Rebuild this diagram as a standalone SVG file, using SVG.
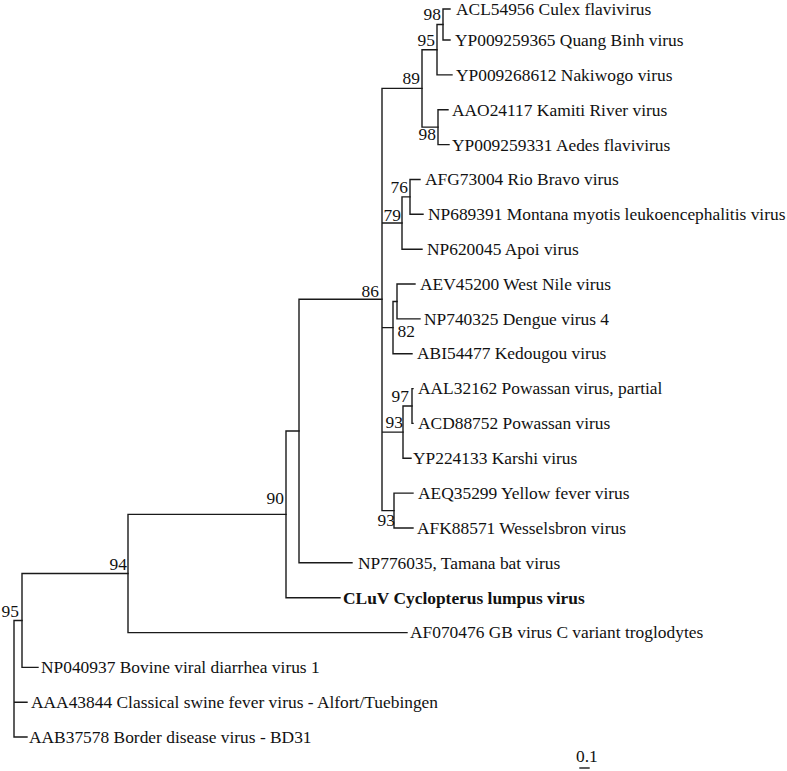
<svg xmlns="http://www.w3.org/2000/svg" width="787" height="771" viewBox="0 0 787 771">
<style>
.e{fill:none;stroke:#1a1a1a;stroke-width:1.4;stroke-linecap:square}
text{font-family:"Liberation Serif","Times New Roman",serif;font-size:17.4px;fill:#111}
.b{text-anchor:end}
.bold{font-weight:bold}
</style>
<rect width="787" height="771" fill="#fff"/>
<g id="connectors">
<path class="e" d="M14 620.5V737M14 620.5H22M14 702.3H27M14 737H27"/>
<path class="e" d="M22 573.5V667.4M22 573.5H128M22 667.4H38"/>
<path class="e" d="M128 514.4V632.6M128 514.4H286M128 632.6H407"/>
<path class="e" d="M286 431V597.7M286 431H299M286 597.7H340"/>
<path class="e" d="M299 299.3V562.8M299 299.3H382M299 562.8H352"/>
<path class="e" d="M382 88.4V510.6M382 88.4H422M382 223H402M382 327.6H393M382 432.1H403M382 510.6H394"/>
<path class="e" d="M422 49.7V127.1M422 49.7H437M422 127.1H438"/>
<path class="e" d="M437 24.5V74.9M437 24.5H443M437 74.9H452"/>
<path class="e" d="M443 9V40M443 9H450M443 40H450"/>
<path class="e" d="M438 109.7V144.6M438 109.7H448M438 144.6H449"/>
<path class="e" d="M402 196.9V249.2M402 196.9H410M402 249.2H422"/>
<path class="e" d="M410 179.5V214.3M410 179.5H420M410 214.3H423"/>
<path class="e" d="M393 301.5V353.7M393 301.5H397M393 353.7H412"/>
<path class="e" d="M397 284V318.9M397 284H415M397 318.9H420"/>
<path class="e" d="M403 406V458.3M403 406H412M403 458.3H411"/>
<path class="e" d="M412 388.6V423.4M412 388.6H413M412 423.4H413"/>
<path class="e" d="M394 493.1V528M394 493.1H413M394 528H413"/>
<path class="e" d="M580 768H589"/>
</g>
<g id="leaf-ACL54956"><text x="456" y="14.5">ACL54956 Culex flavivirus</text></g>
<g id="leaf-YP009259365"><text x="455" y="45.5">YP009259365 Quang Binh virus</text></g>
<g id="leaf-YP009268612"><text x="456" y="80.5">YP009268612 Nakiwogo virus</text></g>
<g id="leaf-AAO24117"><text x="452" y="115.5">AAO24117 Kamiti River virus</text></g>
<g id="leaf-YP009259331"><text x="452" y="150.5">YP009259331 Aedes flavivirus</text></g>
<g id="leaf-AFG73004"><text x="425" y="185">AFG73004 Rio Bravo virus</text></g>
<g id="leaf-NP689391"><text x="428" y="220">NP689391 Montana myotis leukoencephalitis virus</text></g>
<g id="leaf-NP620045"><text x="427" y="255">NP620045 Apoi virus</text></g>
<g id="leaf-AEV45200"><text x="420" y="289.5">AEV45200 West Nile virus</text></g>
<g id="leaf-NP740325"><text x="424" y="324.5">NP740325 Dengue virus 4</text></g>
<g id="leaf-ABI54477"><text x="417" y="359">ABI54477 Kedougou virus</text></g>
<g id="leaf-AAL32162"><text x="418" y="394">AAL32162 Powassan virus, partial</text></g>
<g id="leaf-ACD88752"><text x="418" y="429">ACD88752 Powassan virus</text></g>
<g id="leaf-YP224133"><text x="413" y="464">YP224133 Karshi virus</text></g>
<g id="leaf-AEQ35299"><text x="418" y="498.5">AEQ35299 Yellow fever virus</text></g>
<g id="leaf-AFK88571"><text x="417" y="533.5">AFK88571 Wesselsbron virus</text></g>
<g id="leaf-NP776035"><text x="358" y="568.5">NP776035, Tamana bat virus</text></g>
<g id="leaf-CLuV"><text class="bold" x="343" y="603.5">CLuV Cyclopterus lumpus virus</text></g>
<g id="leaf-AF070476"><text x="410" y="638">AF070476 GB virus C variant troglodytes</text></g>
<g id="leaf-NP040937"><text x="41" y="673">NP040937 Bovine viral diarrhea virus 1</text></g>
<g id="leaf-AAA43844"><text x="31" y="708">AAA43844 Classical swine fever virus - Alfort/Tuebingen</text></g>
<g id="leaf-AAB37578"><text x="29" y="742.5">AAB37578 Border disease virus - BD31</text></g>
<g id="node-98a"><text class="b" x="441" y="20">98</text></g>
<g id="node-95a"><text class="b" x="435" y="46">95</text></g>
<g id="node-89"><text class="b" x="420" y="84">89</text></g>
<g id="node-98b"><text class="b" x="436" y="140">98</text></g>
<g id="node-76"><text class="b" x="408" y="193">76</text></g>
<g id="node-79"><text class="b" x="401" y="221">79</text></g>
<g id="node-86"><text class="b" x="379" y="297">86</text></g>
<g id="node-82"><text class="b" x="415" y="337">82</text></g>
<g id="node-97"><text class="b" x="409" y="402">97</text></g>
<g id="node-93a"><text class="b" x="403" y="428">93</text></g>
<g id="node-93b"><text class="b" x="395" y="526">93</text></g>
<g id="node-90"><text class="b" x="284" y="504">90</text></g>
<g id="node-94"><text class="b" x="127" y="570">94</text></g>
<g id="node-95b"><text class="b" x="19" y="617">95</text></g>
<g id="scale"><text x="576" y="762">0.1</text></g>
</svg>
